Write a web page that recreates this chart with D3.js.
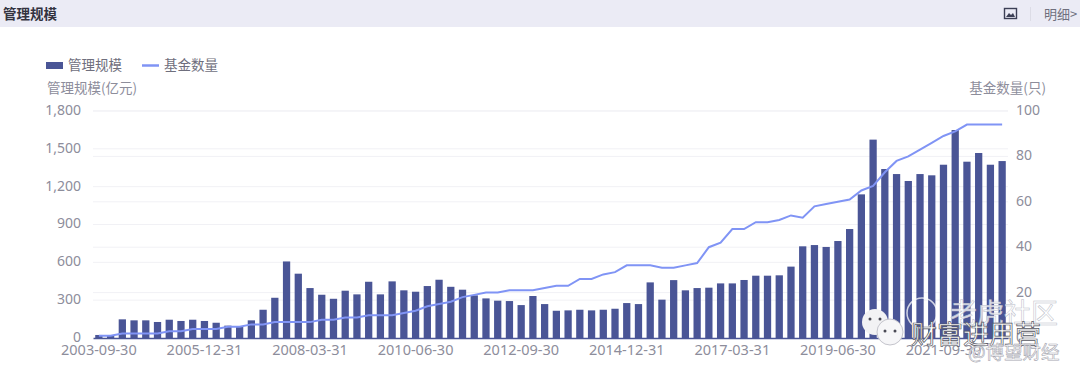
<!DOCTYPE html>
<html>
<head>
<meta charset="utf-8">
<script src="https://cdn.jsdelivr.net/npm/d3@7"></script>
<style>
  html, body { margin: 0; padding: 0; background: #fff; overflow: hidden; }
  text { font-family: "Noto Sans CJK SC", "Noto Sans", sans-serif; }
</style>
</head>
<body>
<script>
var w = 1080;
var h = 377;

// quarter ends, first to last
var categories = [
  "2003-09-30","2003-12-31","2004-03-31","2004-06-30","2004-09-30","2004-12-31",
  "2005-03-31","2005-06-30","2005-09-30","2005-12-31","2006-03-31","2006-06-30",
  "2006-09-30","2006-12-31","2007-03-31","2007-06-30","2007-09-30","2007-12-31",
  "2008-03-31","2008-06-30","2008-09-30","2008-12-31","2009-03-31","2009-06-30",
  "2009-09-30","2009-12-31","2010-03-31","2010-06-30","2010-09-30","2010-12-31",
  "2011-03-31","2011-06-30","2011-09-30","2011-12-31","2012-03-31","2012-06-30",
  "2012-09-30","2012-12-31","2013-03-31","2013-06-30","2013-09-30","2013-12-31",
  "2014-03-31","2014-06-30","2014-09-30","2014-12-31","2015-03-31","2015-06-30",
  "2015-09-30","2015-12-31","2016-03-31","2016-06-30","2016-09-30","2016-12-31",
  "2017-03-31","2017-06-30","2017-09-30","2017-12-31","2018-03-31","2018-06-30",
  "2018-09-30","2018-12-31","2019-03-31","2019-06-30","2019-09-30","2019-12-31",
  "2020-03-31","2020-06-30","2020-09-30","2020-12-31","2021-03-31","2021-06-30",
  "2021-09-30","2021-12-31","2022-03-31","2022-06-30","2022-09-30","2022-12-31"
];

var tickLabels = ["2003-09-30","2005-12-31","2008-03-31","2010-06-30","2012-09-30",
  "2014-12-31","2017-03-31","2019-06-30","2021-09-30"];

var scaleValues = [   // 管理规模(亿元)
  24,20,148,140,140,127,145,135,145,135,121,98,92,140,224,319,607,510,396,343,
  311,375,346,446,346,449,378,367,412,462,406,383,338,314,296,293,261,333,269,216,
  219,224,219,224,232,277,269,441,304,459,378,396,399,433,433,460,494,494,497,566,
  727,737,722,769,864,1139,1573,1340,1300,1245,1300,1290,1374,1649,1398,1467,1374,1403
];

var fundCounts = [    // 基金数量(只)
  1,1,2,2,2,2,3,3,4,4,4,5,5,6,6,7,7,7,7,8,
  8,9,9,10,10,10,11,12,14,15,16,18,19,20,20,21,21,21,22,23,
  23,26,26,28,29,32,32,32,31,31,32,33,40,42,48,48,51,51,52,54,
  53,58,59,60,61,65,67,73,78,80,83,86,89,91,94,94,94,94
];

var leftTicks = [0,300,600,900,1200,1500,1800];
var rightTicks = [0,20,40,60,80,100];

var barColor = "#4a5596";
var lineColor = "#8094f5";
var textColor = "#8d8d9b";

var svg = d3.select("body").append("svg")
    .attr("width", w)
    .attr("height", h)
    .style("display", "block");

var x = d3.scaleBand().domain(categories).range([93, 1008]).paddingInner(0.38).paddingOuter(0.19);
var yLeft = d3.scaleLinear().domain([0, 1800]).range([338, 111]);
var yRight = d3.scaleLinear().domain([0, 100]).range([338, 111]);

// header strip
svg.append("rect").attr("width", w).attr("height", 27).attr("fill", "#ebebf5");
svg.append("text").attr("x", 3).attr("y", 19)
    .attr("font-size", 13.5).attr("font-weight", 700).attr("fill", "#33333f").text("管理规模");
svg.append("text").attr("x", 1044).attr("y", 19)
    .attr("font-size", 13).attr("fill", "#6f6f7d").text("明细>");
svg.append("rect").attr("x", 1030).attr("y", 7).attr("width", 1).attr("height", 14).attr("fill", "#dcdce6");

// little picture icon in the header
var icon = svg.append("g").attr("transform", "translate(1004,8)");
icon.append("rect").attr("x", 0.5).attr("y", 0.5).attr("width", 12).attr("height", 10)
    .attr("fill", "none").attr("stroke", "#3c3f55").attr("stroke-width", 1.4);
icon.append("path").attr("d", "M2 9L5 5L7 7L9 5L11 9Z").attr("fill", "#3c3f55");

// grid lines, one set per axis
svg.append("g").selectAll("line").data(leftTicks.slice(1)).enter().append("line")
    .attr("x1", 93).attr("x2", 1008)
    .attr("y1", function(d){ return yLeft(d); })
    .attr("y2", function(d){ return yLeft(d); })
    .attr("stroke", "#f1f1f5");
svg.append("g").selectAll("line").data(rightTicks.slice(1)).enter().append("line")
    .attr("x1", 93).attr("x2", 1008)
    .attr("y1", function(d){ return yRight(d); })
    .attr("y2", function(d){ return yRight(d); })
    .attr("stroke", "#f1f1f5");

// bars
svg.append("g").selectAll("rect").data(scaleValues).enter().append("rect")
    .attr("x", function(d,i){ return x(categories[i]); })
    .attr("y", function(d){ return yLeft(d); })
    .attr("width", x.bandwidth())
    .attr("height", function(d){ return yLeft(0) - yLeft(d); })
    .attr("fill", barColor);

// axes
var xAxis = d3.axisBottom(x).tickValues(tickLabels).tickSize(0).tickPadding(7);
var gx = svg.append("g").attr("transform", "translate(0,338)").call(xAxis);
gx.select(".domain").attr("stroke", barColor).attr("stroke-width", 1.5);
gx.selectAll("text").attr("font-size", 14.5).attr("fill", textColor)
    .style("font-family", '"Noto Sans", sans-serif');

var gl = svg.append("g").attr("transform", "translate(93,-1)")
    .call(d3.axisLeft(yLeft).tickValues(leftTicks).tickFormat(d3.format(",")).tickSize(0).tickPadding(12));
gl.select(".domain").remove();
gl.selectAll("text").attr("font-size", 14).attr("fill", textColor)
    .style("font-family", '"Noto Sans", sans-serif');

var gr = svg.append("g").attr("transform", "translate(1008,-1)")
    .call(d3.axisRight(yRight).tickValues(rightTicks).tickSize(0).tickPadding(8));
gr.select(".domain").remove();
gr.selectAll("text").attr("font-size", 14).attr("fill", textColor)
    .style("font-family", '"Noto Sans", sans-serif');

// line
var line = d3.line()
    .x(function(d,i){ return x(categories[i]) + x.bandwidth() / 2; })
    .y(function(d){ return yRight(d); });
svg.append("path").datum(fundCounts)
    .attr("d", line)
    .attr("fill", "none")
    .attr("stroke", lineColor)
    .attr("stroke-width", 2);

// axis names
svg.append("text").attr("x", 47).attr("y", 93).attr("font-size", 13.5).attr("fill", textColor).text("管理规模(亿元)");
svg.append("text").attr("x", 1046).attr("y", 93).attr("text-anchor", "end")
    .attr("font-size", 13.5).attr("fill", textColor).text("基金数量(只)");

// legend
svg.append("rect").attr("x", 46).attr("y", 62).attr("width", 17).attr("height", 7).attr("fill", barColor);
svg.append("text").attr("x", 68).attr("y", 70).attr("font-size", 13.5).attr("fill", "#6f6f7d").text("管理规模");
svg.append("line").attr("x1", 142).attr("x2", 159).attr("y1", 65.5).attr("y2", 65.5)
    .attr("stroke", lineColor).attr("stroke-width", 2.5);
svg.append("text").attr("x", 164).attr("y", 70).attr("font-size", 13.5).attr("fill", "#6f6f7d").text("基金数量");

// watermarks stamped over the corner of the chart
var wm = svg.append("g");
wm.append("circle").attr("cx", 922).attr("cy", 313).attr("r", 15)
    .attr("fill", "none").attr("stroke", "#fff").attr("stroke-opacity", 0.75).attr("stroke-width", 1.5);
wm.append("text").attr("x", 950).attr("y", 323).attr("font-size", 27)
    .attr("fill", "#fff").attr("fill-opacity", 0.8).attr("stroke", "#b9bcc8").attr("stroke-width", 0.5)
    .text("老虎社区");
wm.append("circle").attr("cx", 875).attr("cy", 322).attr("r", 13).attr("fill", "#f2f2f4");
wm.append("circle").attr("cx", 890).attr("cy", 332).attr("r", 13)
    .attr("fill", "#f6f6f8").attr("stroke", "#c4c4cc").attr("stroke-width", 1);
wm.selectAll("circle.eye").data([[870,319],[880,319],[885,331],[895,331]]).enter().append("circle")
    .attr("class", "eye")
    .attr("cx", function(d){ return d[0]; })
    .attr("cy", function(d){ return d[1]; })
    .attr("r", 1.5)
    .attr("fill", "#4a4a55");
wm.append("text").attr("x", 911).attr("y", 344).attr("font-size", 26)
    .attr("fill", "#fff").attr("stroke", "#55565f").attr("stroke-width", 0.7)
    .text("财富进用营");
wm.append("text").attr("x", 968).attr("y", 359).attr("font-size", 18.5)
    .attr("fill", "#fff").attr("stroke", "#a8a8b2").attr("stroke-width", 0.6)
    .text("@博望财经");
</script>
</body>
</html>
